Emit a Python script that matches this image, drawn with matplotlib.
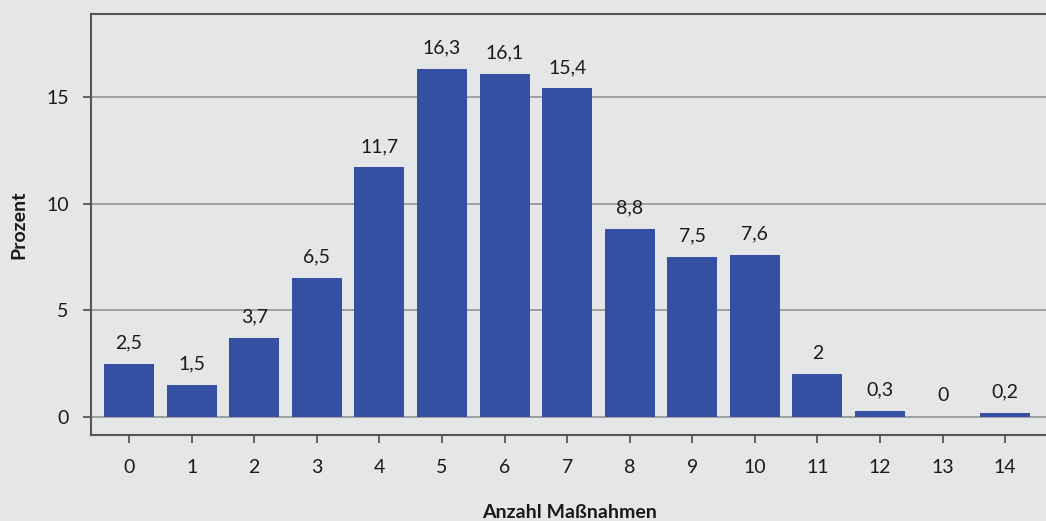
import matplotlib
matplotlib.use("Agg")
import matplotlib.pyplot as plt

# Anteil der Befragten nach Anzahl umgesetzter Maßnahmen
massnahmen = list(range(15))
prozent = [2.5, 1.5, 3.7, 6.5, 11.7, 16.3, 16.1, 15.4, 8.8, 7.5, 7.6, 2.0, 0.3, 0.0, 0.2]
wert_labels = ["2,5", "1,5", "3,7", "6,5", "11,7", "16,3", "16,1", "15,4",
               "8,8", "7,5", "7,6", "2", "0,3", "0", "0,2"]
y_ticks = [0, 5, 10, 15]

BG = "#e5e6e8"
BAR = "#3550a2"
SPINE = "#555555"
GRID = "#9a9a9a"
TXT = "#1a1a1a"

plt.rcParams["font.family"] = ["Lato", "DejaVu Sans"]

W, H = 1046, 521
fig = plt.figure(figsize=(W / 100, H / 100), dpi=100, facecolor=BG)
ax = fig.add_axes([91 / W, 1 - 435 / H, 1 - 91 / W + 0.002, (435 - 14) / H])
ax.set_facecolor(BG)

ax.set_axisbelow(True)
ax.yaxis.grid(True, color=GRID, linewidth=1.3)
ax.xaxis.grid(False)

ax.bar(massnahmen, prozent, width=0.8, color=BAR, zorder=3)

for x, v, lab in zip(massnahmen, prozent, wert_labels):
    ax.annotate(lab, (x, v), xytext=(0, 9), textcoords="offset points",
                ha="center", va="bottom", fontsize=14, color=TXT)

ax.set_xlim(-0.609, 14.686)
ax.set_ylim(-0.844, 18.89)
ax.set_xticks(massnahmen)
ax.set_xticklabels([str(m) for m in massnahmen])
ax.set_yticks(y_ticks)

for side in ["left", "top", "bottom"]:
    ax.spines[side].set_color(SPINE)
    ax.spines[side].set_linewidth(1.5)
ax.spines["right"].set_visible(False)

ax.tick_params(axis="x", direction="out", length=6, width=1.3, color=SPINE,
               pad=11, labelsize=14, labelcolor=TXT)
ax.tick_params(axis="y", direction="out", length=6, width=1.3, color=SPINE,
               pad=10, labelsize=14, labelcolor=TXT)

ax.set_xlabel("Anzahl Maßnahmen", fontsize=14, fontweight="bold", color=TXT, va="center")
ax.xaxis.set_label_coords(0.5, -0.183)
ax.set_ylabel("Prozent", fontsize=14, fontweight="bold", color=TXT, va="center")
ax.yaxis.set_label_coords(-0.075, 0.5)

fig.savefig("out.png", dpi=100, facecolor=BG)
